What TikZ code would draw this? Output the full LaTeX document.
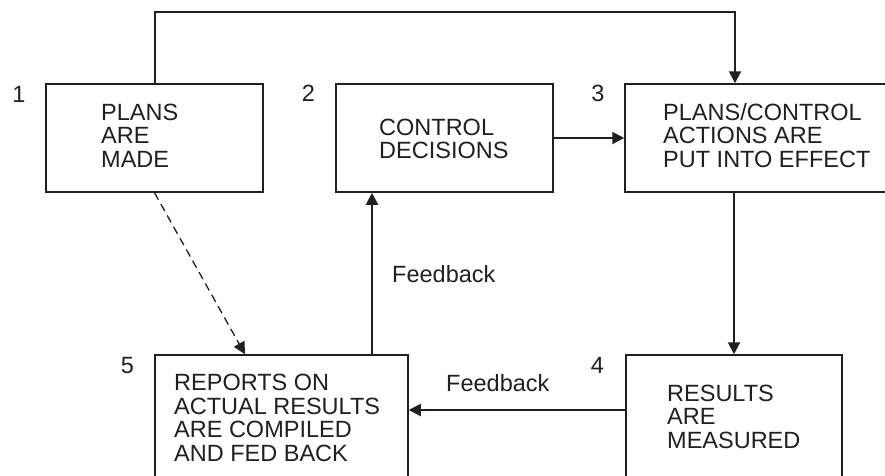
\documentclass[tikz,border=0pt]{standalone}
\usepackage{fontspec}
\setmainfont{Liberation Sans}
\usetikzlibrary{arrows.meta}
\definecolor{ink}{HTML}{231F20}
% left-aligned stack of lines whose baseline is the first line
\newcommand\linestack[1]{\vtop{\halign{##\hfil\cr#1\crcr}}}
\tikzset{
  box/.style={draw=ink, line width=1.5pt, rectangle, inner sep=0pt},
  words/.style={inner sep=0pt, anchor=base west, text=ink,
    font=\fontsize{23.5}{23.6}\selectfont},
  num/.style={inner sep=0pt, anchor=base, text=ink,
    font=\fontsize{23.5}{23.6}\selectfont},
  flow/.style={draw=ink, line width=2pt, -{Triangle[length=12pt,width=12pt]}},
  hint/.style={draw=ink, line width=1.3pt, dash pattern=on 8pt off 5pt,
    -{Triangle[length=12pt,width=12pt]}}
}
\begin{document}
\begin{tikzpicture}[x=1pt, y=-1pt]
\useasboundingbox (0,0) rectangle (885,475);
\clip (0,0) rectangle (885,475);
\fill[white] (0,0) rectangle (885,475);

% boxes
\node[box, minimum width=217pt, minimum height=108pt] (b1) at (154.5,138) {};
\node[box, minimum width=217pt, minimum height=108pt] (b2) at (444.5,138) {};
\node[box, minimum width=280pt, minimum height=108pt] (b3) at (765,138) {};
\node[box, minimum width=216pt, minimum height=122pt] (b4) at (734,416) {};
\node[box, minimum width=253pt, minimum height=122pt] (b5) at (281.5,416) {};

% box texts
\node[words] (t1) at (101,120) {\linestack{PLANS\cr ARE\cr MADE}};
\node[words] (t2) at (379,135) {\linestack{CONTROL\cr DECISIONS}};
\node[words] (t3) at (663,120) {\linestack{PLANS/CONTROL\cr ACTIONS ARE\cr PUT INTO EFFECT}};
\node[words] (t4) at (667,401) {\linestack{RESULTS\cr ARE\cr MEASURED}};
\node[words] (t5) at (174,390.5) {\linestack{REPORTS ON\cr ACTUAL RESULTS\cr ARE COMPILED\cr AND FED BACK}};

% step numbers
\node[num] (n1) at (19,102) {1};
\node[num] (n2) at (308.5,101.5) {2};
\node[num] (n3) at (598,101.5) {3};
\node[num] (n4) at (597.5,373) {4};
\node[num] (n5) at (127.5,373) {5};

% connectors
\coordinate (tr) at (735,12);
\draw[flow] (b1.north) |- (tr) -- (tr |- b3.north);
\draw[flow] (b2.east) -- (b2.east -| b3.west);
\draw[flow] (b4.north |- b3.south) -- (b4.north);
\draw[flow] ([yshift=6pt]b4.west) -- ([yshift=6pt]b4.west -| b5.east);
\draw[flow] ([xshift=90.5pt]b5.north) -- ([xshift=90.5pt]b5.north |- b2.south);
\draw[hint] (b1.south) -- ([xshift=-36.5pt]b5.north);

% feedback labels
\node[words] (f1) at (392,282.5) {Feedback};
\node[words] (f2) at (446,391.5) {Feedback};
\end{tikzpicture}
\end{document}
